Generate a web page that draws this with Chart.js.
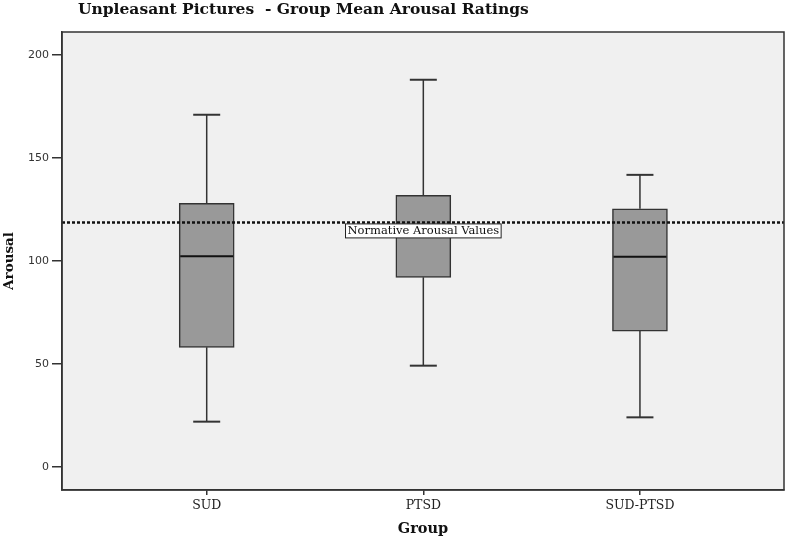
<!DOCTYPE html>
<html>
<head>
<meta charset="utf-8">
<title>Unpleasant Pictures - Group Mean Arousal Ratings</title>
<script src="https://cdn.jsdelivr.net/npm/chart.js@4.4.1/dist/chart.umd.min.js"></script>
<style>
  html, body { margin: 0; padding: 0; background: #fff; }
  #wrap { width: 787px; height: 540px; }
</style>
</head>
<body>
<div id="wrap"><canvas id="box" width="787" height="540"></canvas></div>
<script>
// values
const groups = ['SUD', 'PTSD', 'SUD-PTSD']
const whiskerLow = [21.9, 49.1, 24.0]
const q1 = [58.0, 92.0, 65.9]
const median = [102.2, 115.0, 102.0]
const q3 = [128.0, 131.8, 125.3]
const whiskerHigh = [171.0, 188.0, 141.8]
const normativeArousal = 118.7
const yTicks = [0, 50, 100, 150, 200]

const xMin = -0.668
const xMax = 2.665
const yMin = -11.3
const yMax = 211.2

const serif = 'DejaVu Serif'
const boxWidth = 55
const capWidth = 27

const boxExtras = {
  id: 'boxExtras',
  beforeDraw(chart) {
    const { ctx, chartArea: a } = chart
    ctx.save()
    ctx.fillStyle = '#ffffff'
    ctx.fillRect(0, 0, chart.width, chart.height)
    ctx.fillStyle = '#f0f0f0'
    ctx.fillRect(a.left, a.top, a.right - a.left, a.bottom - a.top)
    ctx.restore()
  },
  beforeDatasetsDraw(chart) {
    const { ctx, scales: { x, y } } = chart
    ctx.save()
    ctx.strokeStyle = '#333333'
    groups.forEach((g, i) => {
      const px = x.getPixelForValue(i)
      ctx.lineWidth = 1.5
      ctx.beginPath()
      ctx.moveTo(px, y.getPixelForValue(whiskerHigh[i]))
      ctx.lineTo(px, y.getPixelForValue(q3[i]))
      ctx.moveTo(px, y.getPixelForValue(q1[i]))
      ctx.lineTo(px, y.getPixelForValue(whiskerLow[i]))
      ctx.stroke()
      ctx.lineWidth = 2
      ;[whiskerHigh[i], whiskerLow[i]].forEach(v => {
        const py = y.getPixelForValue(v)
        ctx.beginPath()
        ctx.moveTo(px - capWidth / 2, py)
        ctx.lineTo(px + capWidth / 2, py)
        ctx.stroke()
      })
    })
    ctx.restore()
  },
  afterDatasetsDraw(chart) {
    const { ctx, chartArea: a, scales: { x, y } } = chart
    ctx.save()
    ctx.strokeStyle = '#111111'
    ctx.lineWidth = 2
    groups.forEach((g, i) => {
      const px = x.getPixelForValue(i)
      const py = y.getPixelForValue(median[i])
      ctx.beginPath()
      ctx.moveTo(px - boxWidth / 2 + 1, py)
      ctx.lineTo(px + boxWidth / 2 - 1, py)
      ctx.stroke()
    })
    ctx.strokeStyle = '#333333'
    ctx.lineWidth = 1.5
    ctx.strokeRect(a.left, a.top, a.right - a.left, a.bottom - a.top)
    ctx.restore()
  },
  afterDraw(chart) {
    const { ctx, scales: { x, y } } = chart
    ctx.save()
    // label of the reference line
    const label = 'Normative Arousal Values'
    ctx.font = '11.5px "' + serif + '"'
    const w = ctx.measureText(label).width + 4
    const cx = x.getPixelForValue(1)
    const top = y.getPixelForValue(normativeArousal) + 1.5
    ctx.fillStyle = '#ffffff'
    ctx.fillRect(cx - w / 2, top, w, 14)
    ctx.strokeStyle = '#222222'
    ctx.lineWidth = 1
    ctx.strokeRect(cx - w / 2, top, w, 14)
    ctx.fillStyle = '#111111'
    ctx.textAlign = 'center'
    ctx.textBaseline = 'middle'
    ctx.fillText(label, cx, top + 7.5)
    // chart title
    ctx.font = 'bold 15.5px "' + serif + '"'
    ctx.textAlign = 'left'
    ctx.fillStyle = '#111111'
    ctx.fillText('Unpleasant Pictures  - Group Mean Arousal Ratings', 78, 9.5)
    ctx.restore()
  }
}

new Chart(document.getElementById('box'), {
  type: 'bar',
  data: {
    datasets: [
      {
        type: 'line',
        order: 0,
        data: [{ x: xMin, y: normativeArousal }, { x: xMax, y: normativeArousal }],
        borderColor: '#111111',
        borderWidth: 2.5,
        borderDash: [3, 2],
        pointRadius: 0,
        fill: false
      },
      {
        type: 'bar',
        order: 1,
        data: groups.map((g, i) => ({ x: i, y: [q1[i], q3[i]] })),
        backgroundColor: '#999999',
        borderColor: '#333333',
        borderWidth: 1.5,
        borderSkipped: false,
        barThickness: boxWidth
      }
    ]
  },
  options: {
    responsive: false,
    animation: false,
    layout: { padding: { top: 32, right: 3, left: 0, bottom: 0 } },
    plugins: {
      legend: { display: false },
      tooltip: { enabled: false },
      title: { display: false }
    },
    scales: {
      x: {
        type: 'linear',
        min: xMin,
        max: xMax,
        offset: false,
        afterBuildTicks: s => { s.ticks = groups.map((g, i) => ({ value: i })) },
        afterFit: s => { s.height = 50 },
        ticks: {
          callback: v => groups[v],
          color: '#222222',
          font: { family: serif, size: 12.5 },
          padding: 3,
          maxRotation: 0
        },
        grid: { offset: false, drawOnChartArea: false, drawTicks: true, tickLength: 5, color: '#333333', lineWidth: 1.5 },
        border: { display: true, color: '#333333', width: 1.5 },
        title: {
          display: true,
          text: 'Group',
          color: '#111111',
          font: { family: serif, size: 14.5, weight: 'bold' },
          padding: { top: 0, bottom: 2 }
        }
      },
      y: {
        min: yMin,
        max: yMax,
        afterBuildTicks: s => { s.ticks = yTicks.map(v => ({ value: v })) },
        afterFit: s => { s.width = 62 },
        ticks: {
          color: '#333333',
          font: { family: 'DejaVu Sans', size: 11 },
          padding: 3
        },
        grid: { drawOnChartArea: false, drawTicks: true, tickLength: 10, color: '#333333', lineWidth: 1.5 },
        border: { display: true, color: '#333333', width: 1.5 },
        title: {
          display: true,
          text: 'Arousal',
          color: '#111111',
          font: { family: serif, size: 13.5, weight: 'bold' },
          padding: { top: 1, bottom: 0 }
        }
      }
    }
  },
  plugins: [boxExtras]
})
</script>
</body>
</html>
